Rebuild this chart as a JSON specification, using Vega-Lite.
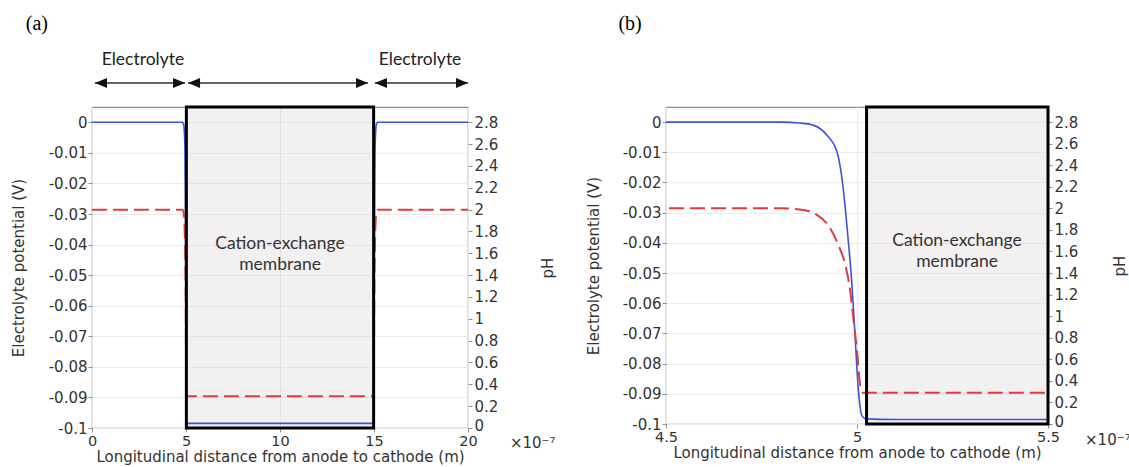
{
  "$schema": "https://vega.github.io/schema/vega-lite/v6.json",
  "background": "white",
  "padding": {"left": 10, "top": 13, "right": 0, "bottom": 0},
  "spacing": 198,
  "bounds": "flush",
  "config": {
    "view": {"stroke": "#8f8f8f", "strokeWidth": 1.2},
    "axis": {
      "labelFont": "DejaVu Sans", "labelFontSize": 15, "labelColor": "#333333",
      "titleFont": "DejaVu Sans", "titleFontSize": 15, "titleFontWeight": "normal", "titleColor": "#333333",
      "tickColor": "#8f8f8f", "tickSize": 4, "domain": false, "gridColor": "#ebebeb",
      "labelFlush": false, "labelOverlap": false, "labelBound": false
    }
  },
  "datasets": {
    "potential": [
      {"x": 0, "V": 0}, {"x": 4.8, "V": 0}, {"x": 4.85, "V": -0.0003}, {"x": 4.885, "V": -0.001},
      {"x": 4.921, "V": -0.0043}, {"x": 4.948, "V": -0.010}, {"x": 4.963, "V": -0.021},
      {"x": 4.976, "V": -0.0377}, {"x": 4.987, "V": -0.0543}, {"x": 4.995, "V": -0.071},
      {"x": 5.003, "V": -0.0877}, {"x": 5.013, "V": -0.0973}, {"x": 5.024, "V": -0.0983},
      {"x": 5.1, "V": -0.0985}, {"x": 14.9, "V": -0.0985}, {"x": 14.976, "V": -0.0983},
      {"x": 14.987, "V": -0.0973}, {"x": 14.997, "V": -0.0877}, {"x": 15.005, "V": -0.071},
      {"x": 15.013, "V": -0.0543}, {"x": 15.024, "V": -0.0377}, {"x": 15.037, "V": -0.021},
      {"x": 15.052, "V": -0.010}, {"x": 15.079, "V": -0.0043}, {"x": 15.115, "V": -0.001},
      {"x": 15.15, "V": -0.0003}, {"x": 15.2, "V": 0}, {"x": 20, "V": 0}
    ],
    "ph": [
      {"x": 0, "pH": 2}, {"x": 4.8, "pH": 2}, {"x": 4.85, "pH": 1.99}, {"x": 4.895, "pH": 1.94},
      {"x": 4.929, "pH": 1.82}, {"x": 4.95, "pH": 1.67}, {"x": 4.969, "pH": 1.48},
      {"x": 4.982, "pH": 1.24}, {"x": 4.99, "pH": 0.99}, {"x": 5.0, "pH": 0.68},
      {"x": 5.008, "pH": 0.37}, {"x": 5.016, "pH": 0.29}, {"x": 5.1, "pH": 0.29},
      {"x": 14.9, "pH": 0.29}, {"x": 14.984, "pH": 0.29}, {"x": 14.992, "pH": 0.37},
      {"x": 15.0, "pH": 0.68}, {"x": 15.01, "pH": 0.99}, {"x": 15.018, "pH": 1.24},
      {"x": 15.031, "pH": 1.48}, {"x": 15.05, "pH": 1.67}, {"x": 15.071, "pH": 1.82},
      {"x": 15.105, "pH": 1.94}, {"x": 15.15, "pH": 1.99}, {"x": 15.2, "pH": 2}, {"x": 20, "pH": 2}
    ],
    "arrows": [
      {"from": 0.16, "to": 4.95},
      {"from": 5.11, "to": 14.68},
      {"from": 15.05, "to": 20.0}
    ],
    "one": [{}]
  },
  "hconcat": [
    {
      "width": 376,
      "height": 321,
      "resolve": {"scale": {"y": "independent"}},
      "layer": [
        {
          "data": {"name": "one"},
          "layer": [
            {
              "mark": {"type": "rect", "fill": "#cfc3c9", "opacity": 0.25},
              "encoding": {
                "x": {"datum": 5.02, "type": "quantitative", "scale": {"domain": [0, 20], "nice": false, "zero": false},
                      "axis": {"orient": "bottom", "values": [0, 5, 10, 15, 20], "format": "d", "grid": true, "labelPadding": 2, "titlePadding": 2,
                               "labelFontSize": 14.5, "title": "Longitudinal distance from anode to cathode (m)"}},
                "x2": {"datum": 14.98}
              }
            },
            {
              "data": {"name": "potential"},
              "mark": {"type": "line", "color": "#3f51d8", "strokeWidth": 1.6, "interpolate": "monotone"},
              "encoding": {
                "x": {"field": "x", "type": "quantitative", "scale": {"domain": [0, 20], "nice": false, "zero": false}},
                "y": {"field": "V", "type": "quantitative", "scale": {"domain": [-0.1, 0.005], "nice": false, "zero": false},
                      "axis": {"values": [-0.1, -0.09, -0.08, -0.07, -0.06, -0.05, -0.04, -0.03, -0.02, -0.01, 0],
                               "format": ".2~f", "labelExpr": "replace(datum.label, '\u2212', '-')",
                               "grid": true, "labelPadding": 1, "titlePadding": 22, "title": "Electrolyte potential (V)"}}
              }
            }
          ]
        },
        {
          "data": {"name": "ph"},
          "mark": {"type": "line", "color": "#e33b3b", "strokeWidth": 2, "strokeDash": [15, 6], "interpolate": "monotone"},
          "encoding": {
            "x": {"field": "x", "type": "quantitative", "scale": {"domain": [0, 20], "nice": false, "zero": false}},
            "y": {"field": "pH", "type": "quantitative", "scale": {"domain": [0, 2.94], "nice": false, "zero": false},
                  "axis": {"orient": "right", "values": [0, 0.2, 0.4, 0.6, 0.8, 1, 1.2, 1.4, 1.6, 1.8, 2, 2.2, 2.4, 2.6, 2.8],
                           "format": ".1~f", "grid": false, "labelPadding": 2, "titlePadding": 58, "titleAngle": -90, "title": "pH",
                           "labelOffset": {"condition": {"test": "datum.value === 0", "value": -3}, "value": 0}}}
          }
        },
        {
          "data": {"name": "one"},
          "layer": [
            {
              "mark": {"type": "rect", "fill": "transparent", "stroke": "#000000", "strokeWidth": 3},
              "encoding": {
                "x": {"datum": 5.02, "type": "quantitative", "scale": {"domain": [0, 20], "nice": false, "zero": false}},
                "x2": {"datum": 14.98}
              }
            },
            {
              "mark": {"type": "text", "text": ["Cation-exchange", "membrane"], "font": "Lato", "fontSize": 17.5, "lineHeight": 21, "color": "#333333", "baseline": "middle", "align": "center"},
              "encoding": {
                "x": {"datum": 10, "type": "quantitative", "scale": {"domain": [0, 20], "nice": false, "zero": false}},
                "y": {"datum": -0.0399, "type": "quantitative", "scale": {"domain": [-0.1, 0.005], "nice": false, "zero": false}, "axis": null}
              }
            },
            {
              "mark": {"type": "text", "text": "Electrolyte", "font": "Lato", "fontSize": 17.5, "color": "#222222", "baseline": "middle", "align": "center"},
              "encoding": {
                "x": {"datum": 2.71, "type": "quantitative", "scale": {"domain": [0, 20], "nice": false, "zero": false}},
                "y": {"datum": 0.0204, "type": "quantitative", "scale": {"domain": [-0.1, 0.005], "nice": false, "zero": false}, "axis": null}
              }
            },
            {
              "mark": {"type": "text", "text": "Electrolyte", "font": "Lato", "fontSize": 17.5, "color": "#222222", "baseline": "middle", "align": "center"},
              "encoding": {
                "x": {"datum": 17.45, "type": "quantitative", "scale": {"domain": [0, 20], "nice": false, "zero": false}},
                "y": {"datum": 0.0204, "type": "quantitative", "scale": {"domain": [-0.1, 0.005], "nice": false, "zero": false}, "axis": null}
              }
            },
            {
              "data": {"name": "arrows"},
              "mark": {"type": "rule", "color": "#333333", "strokeWidth": 1.5},
              "encoding": {
                "x": {"field": "from", "type": "quantitative", "scale": {"domain": [0, 20], "nice": false, "zero": false}},
                "x2": {"field": "to"},
                "y": {"datum": 0.01285, "type": "quantitative", "scale": {"domain": [-0.1, 0.005], "nice": false, "zero": false}, "axis": null}
              }
            },
            {
              "data": {"name": "arrows"},
              "mark": {"type": "point", "shape": "M0,0L2,-0.85L2,0.85Z", "filled": true, "color": "#111111", "opacity": 1, "size": 144},
              "encoding": {
                "x": {"field": "from", "type": "quantitative", "scale": {"domain": [0, 20], "nice": false, "zero": false}},
                "y": {"datum": 0.01285, "type": "quantitative", "scale": {"domain": [-0.1, 0.005], "nice": false, "zero": false}, "axis": null}
              }
            },
            {
              "data": {"name": "arrows"},
              "mark": {"type": "point", "shape": "M0,0L-2,-0.85L-2,0.85Z", "filled": true, "color": "#111111", "opacity": 1, "size": 144},
              "encoding": {
                "x": {"field": "to", "type": "quantitative", "scale": {"domain": [0, 20], "nice": false, "zero": false}},
                "y": {"datum": 0.01285, "type": "quantitative", "scale": {"domain": [-0.1, 0.005], "nice": false, "zero": false}, "axis": null}
              }
            },
            {
              "mark": {"type": "text", "text": "(a)", "font": "Liberation Serif", "fontSize": 20, "color": "#000000", "baseline": "middle", "align": "center"},
              "encoding": {
                "x": {"datum": -2.93, "type": "quantitative", "scale": {"domain": [0, 20], "nice": false, "zero": false}},
                "y": {"datum": 0.0322, "type": "quantitative", "scale": {"domain": [-0.1, 0.005], "nice": false, "zero": false}, "axis": null}
              }
            },
            {
              "mark": {"type": "text", "text": "×10⁻⁷", "font": "DejaVu Sans", "fontSize": 15, "color": "#333333", "baseline": "middle", "align": "left"},
              "encoding": {
                "x": {"datum": 22.23, "type": "quantitative", "scale": {"domain": [0, 20], "nice": false, "zero": false}},
                "y": {"datum": -0.1049, "type": "quantitative", "scale": {"domain": [-0.1, 0.005], "nice": false, "zero": false}, "axis": null}
              }
            }
          ]
        }
      ]
    },
    {
      "width": 382,
      "height": 317,
      "resolve": {"scale": {"y": "independent"}},
      "layer": [
        {
          "data": {"name": "one"},
          "layer": [
            {
              "mark": {"type": "rect", "fill": "#cfc3c9", "opacity": 0.25},
              "encoding": {
                "x": {"datum": 5.025, "type": "quantitative", "scale": {"domain": [4.5, 5.5], "nice": false, "zero": false},
                      "axis": {"orient": "bottom", "values": [4.5, 5, 5.5], "format": ".1~f", "grid": true, "labelPadding": 2, "titlePadding": 2,
                               "labelFontSize": 14.5, "title": "Longitudinal distance from anode to cathode (m)"}},
                "x2": {"datum": 5.5}
              }
            },
            {
              "data": {"name": "potential"},
              "mark": {"type": "line", "color": "#3f51d8", "strokeWidth": 1.6, "interpolate": "monotone", "clip": true},
              "encoding": {
                "x": {"field": "x", "type": "quantitative", "scale": {"domain": [4.5, 5.5], "nice": false, "zero": false}},
                "y": {"field": "V", "type": "quantitative", "scale": {"domain": [-0.1, 0.005], "nice": false, "zero": false},
                      "axis": {"values": [-0.1, -0.09, -0.08, -0.07, -0.06, -0.05, -0.04, -0.03, -0.02, -0.01, 0],
                               "format": ".2~f", "labelExpr": "replace(datum.label, '\u2212', '-')",
                               "grid": true, "labelPadding": 1, "titlePadding": 21, "title": "Electrolyte potential (V)"}}
              }
            }
          ]
        },
        {
          "data": {"name": "ph"},
          "mark": {"type": "line", "color": "#e33b3b", "strokeWidth": 2, "strokeDash": [15, 6], "interpolate": "monotone", "clip": true},
          "encoding": {
            "x": {"field": "x", "type": "quantitative", "scale": {"domain": [4.5, 5.5], "nice": false, "zero": false}},
            "y": {"field": "pH", "type": "quantitative", "scale": {"domain": [0, 2.94], "nice": false, "zero": false},
                  "axis": {"orient": "right", "values": [0, 0.2, 0.4, 0.6, 0.8, 1, 1.2, 1.4, 1.6, 1.8, 2, 2.2, 2.4, 2.6, 2.8],
                           "format": ".1~f", "grid": false, "labelPadding": 2, "titlePadding": 50, "titleAngle": -90, "title": "pH",
                           "labelOffset": {"condition": {"test": "datum.value === 0", "value": -3}, "value": 0}}}
          }
        },
        {
          "data": {"name": "one"},
          "layer": [
            {
              "mark": {"type": "rect", "fill": "transparent", "stroke": "#000000", "strokeWidth": 3},
              "encoding": {
                "x": {"datum": 5.025, "type": "quantitative", "scale": {"domain": [4.5, 5.5], "nice": false, "zero": false}},
                "x2": {"datum": 5.5}
              }
            },
            {
              "mark": {"type": "text", "text": ["Cation-exchange", "membrane"], "font": "Lato", "fontSize": 17.5, "lineHeight": 21, "color": "#333333", "baseline": "middle", "align": "center"},
              "encoding": {
                "x": {"datum": 5.262, "type": "quantitative", "scale": {"domain": [4.5, 5.5], "nice": false, "zero": false}},
                "y": {"datum": -0.0394, "type": "quantitative", "scale": {"domain": [-0.1, 0.005], "nice": false, "zero": false}, "axis": null}
              }
            },
            {
              "mark": {"type": "text", "text": "(b)", "font": "Liberation Serif", "fontSize": 20, "color": "#000000", "baseline": "middle", "align": "center"},
              "encoding": {
                "x": {"datum": 4.406, "type": "quantitative", "scale": {"domain": [4.5, 5.5], "nice": false, "zero": false}},
                "y": {"datum": 0.0325, "type": "quantitative", "scale": {"domain": [-0.1, 0.005], "nice": false, "zero": false}, "axis": null}
              }
            },
            {
              "mark": {"type": "text", "text": "×10⁻⁷", "font": "DejaVu Sans", "fontSize": 15, "color": "#333333", "baseline": "middle", "align": "left"},
              "encoding": {
                "x": {"datum": 5.597, "type": "quantitative", "scale": {"domain": [4.5, 5.5], "nice": false, "zero": false}},
                "y": {"datum": -0.1053, "type": "quantitative", "scale": {"domain": [-0.1, 0.005], "nice": false, "zero": false}, "axis": null}
              }
            }
          ]
        }
      ]
    }
  ]
}
